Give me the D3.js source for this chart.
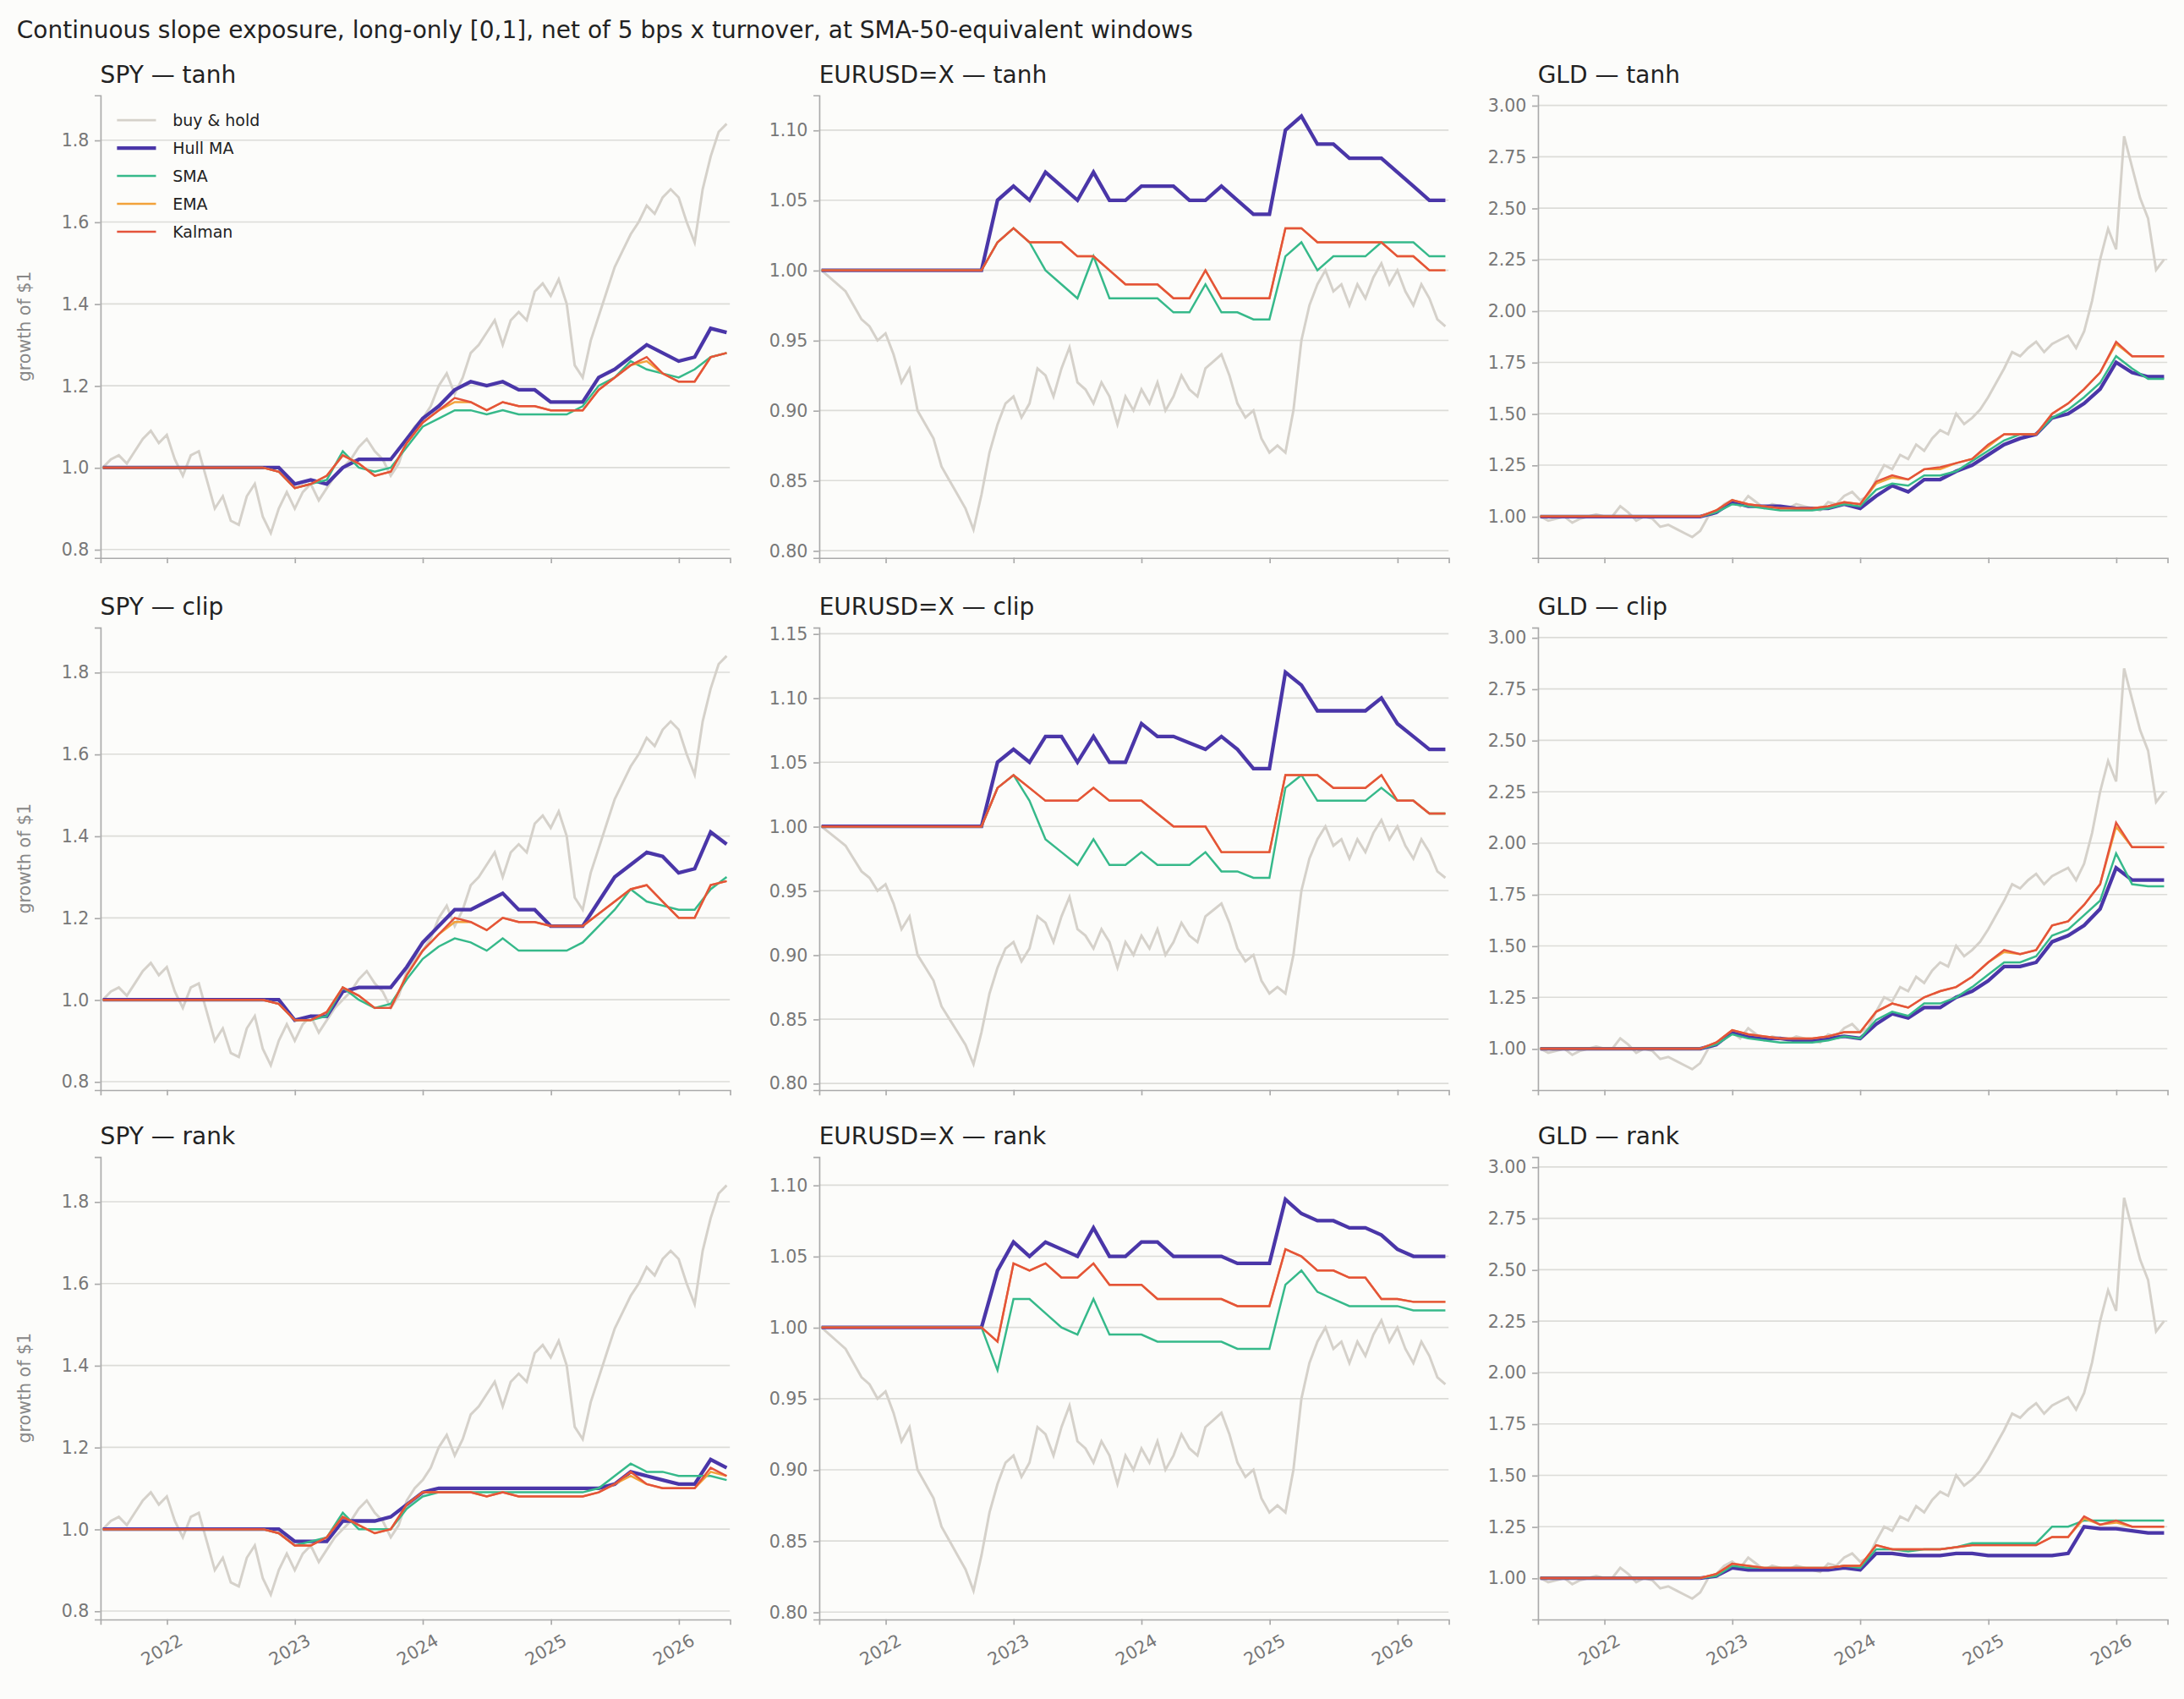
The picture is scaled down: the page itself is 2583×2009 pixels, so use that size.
<!DOCTYPE html>
<html><head><meta charset="utf-8">
<script src="https://cdn.jsdelivr.net/npm/d3@7"></script>
<style>body{margin:0;background:#fcfcfa;font-family:"DejaVu Sans",sans-serif}</style>
</head><body>
<div id="chart"></div>
<script>
(function () {
  'use strict';

  // buy & hold, every 1/16 year from 2021.5
  var bh = {
    SPY: [1.0,1.02,1.03,1.01,1.04,1.07,1.09,1.06,1.08, 1.02,0.98,1.03,1.04,0.97,0.90,0.93,0.87,
      0.86,0.93,0.96,0.88,0.84,0.90,0.94,0.90, 0.94,0.96,0.92,0.95,0.98,1.00,1.02,1.05,
      1.07,1.04,1.02,0.98,1.01,1.07,1.10,1.12, 1.15,1.20,1.23,1.18,1.22,1.28,1.30,1.33,
      1.36,1.30,1.36,1.38,1.36,1.43,1.45,1.42, 1.46,1.40,1.25,1.22,1.31,1.37,1.43,1.49,
      1.53,1.57,1.60,1.64,1.62,1.66,1.68,1.66, 1.60,1.55,1.68,1.76,1.82,1.84],
    'EURUSD=X': [1.0,0.995,0.99,0.985,0.975,0.965,0.96,0.95,0.955, 0.94,0.92,0.93,0.90,0.89,0.88,0.86,0.85,
      0.84,0.83,0.815,0.84,0.87,0.89,0.905,0.91, 0.895,0.905,0.93,0.925,0.91,0.93,0.945,0.92,
      0.915,0.905,0.92,0.91,0.89,0.91,0.90,0.915, 0.905,0.92,0.90,0.91,0.925,0.915,0.91,0.93,
      0.935,0.94,0.925,0.905,0.895,0.90,0.88,0.87, 0.875,0.87,0.90,0.95,0.975,0.99,1.0,0.985,
      0.99,0.975,0.99,0.98,0.995,1.005,0.99,1.0, 0.985,0.975,0.99,0.98,0.965,0.96],
    GLD: [1.0,0.98,0.99,1.0,0.97,0.99,1.0,1.01,1.0, 1.0,1.05,1.02,0.98,1.0,0.99,0.95,0.96,
      0.94,0.92,0.90,0.93,1.0,1.02,1.06,1.08, 1.05,1.1,1.07,1.04,1.06,1.05,1.04,1.06,
      1.05,1.04,1.03,1.07,1.06,1.10,1.12,1.08, 1.10,1.18,1.25,1.23,1.30,1.28,1.35,1.32,
      1.38,1.42,1.40,1.50,1.45,1.48,1.52,1.58, 1.65,1.72,1.80,1.78,1.82,1.85,1.80,1.84,
      1.86,1.88,1.82,1.90,2.05,2.25,2.40,2.30, 2.85,2.70,2.55,2.45,2.20,2.25]
  };

  // strategies, every 1/8 year from 2022.875 (flat at 1 before)
  var strat = {
    SPY: {
      tanh: {
        'Hull MA': [1.0,0.96,0.97,0.96,1.0,1.02,1.02,1.02,1.07,1.12,1.15,1.19,1.21,1.20,1.21,1.19,1.19,1.16,1.16,1.16,1.22,1.24,1.27,1.30,1.28,1.26,1.27,1.34,1.33],
        SMA: [0.99,0.95,0.96,0.97,1.04,1.00,0.99,1.00,1.05,1.10,1.12,1.14,1.14,1.13,1.14,1.13,1.13,1.13,1.13,1.15,1.20,1.22,1.26,1.24,1.23,1.22,1.24,1.27,1.28],
        EMA: [0.99,0.95,0.96,0.98,1.03,1.01,0.98,0.99,1.06,1.11,1.14,1.16,1.16,1.14,1.16,1.15,1.15,1.14,1.14,1.14,1.19,1.22,1.25,1.26,1.23,1.21,1.21,1.27,1.28],
        Kalman: [0.99,0.95,0.96,0.98,1.03,1.01,0.98,0.99,1.06,1.11,1.14,1.17,1.16,1.14,1.16,1.15,1.15,1.14,1.14,1.14,1.19,1.22,1.25,1.27,1.23,1.21,1.21,1.27,1.28]
      },
      clip: {
        'Hull MA': [1.0,0.95,0.96,0.96,1.02,1.03,1.03,1.03,1.08,1.14,1.18,1.22,1.22,1.24,1.26,1.22,1.22,1.18,1.18,1.18,1.24,1.30,1.33,1.36,1.35,1.31,1.32,1.41,1.38],
        SMA: [0.99,0.95,0.95,0.96,1.03,1.00,0.98,0.99,1.05,1.10,1.13,1.15,1.14,1.12,1.15,1.12,1.12,1.12,1.12,1.14,1.18,1.22,1.27,1.24,1.23,1.22,1.22,1.27,1.30],
        EMA: [0.99,0.95,0.95,0.97,1.03,1.01,0.98,0.98,1.06,1.12,1.16,1.19,1.19,1.17,1.20,1.19,1.19,1.18,1.18,1.18,1.21,1.24,1.27,1.28,1.24,1.20,1.20,1.28,1.29],
        Kalman: [0.99,0.95,0.95,0.97,1.03,1.01,0.98,0.98,1.06,1.12,1.16,1.20,1.19,1.17,1.20,1.19,1.19,1.18,1.18,1.18,1.21,1.24,1.27,1.28,1.24,1.20,1.20,1.28,1.29]
      },
      rank: {
        'Hull MA': [1.0,0.97,0.97,0.97,1.02,1.02,1.02,1.03,1.06,1.09,1.10,1.10,1.10,1.10,1.10,1.10,1.10,1.10,1.10,1.10,1.10,1.11,1.14,1.13,1.12,1.11,1.11,1.17,1.15],
        SMA: [0.99,0.96,0.97,0.98,1.04,1.00,1.00,1.00,1.05,1.08,1.09,1.09,1.09,1.09,1.09,1.09,1.09,1.09,1.09,1.09,1.10,1.13,1.16,1.14,1.14,1.13,1.13,1.13,1.12],
        EMA: [0.99,0.96,0.96,0.98,1.03,1.01,0.99,1.00,1.06,1.09,1.09,1.09,1.09,1.08,1.09,1.08,1.08,1.08,1.08,1.08,1.09,1.11,1.13,1.11,1.10,1.10,1.10,1.14,1.13],
        Kalman: [0.99,0.96,0.96,0.98,1.03,1.01,0.99,1.00,1.06,1.09,1.09,1.09,1.09,1.08,1.09,1.08,1.08,1.08,1.08,1.08,1.09,1.11,1.14,1.11,1.10,1.10,1.10,1.15,1.13]
      }
    },
    'EURUSD=X': {
      tanh: {
        'Hull MA': [1.05,1.06,1.05,1.07,1.06,1.05,1.07,1.05,1.05,1.06,1.06,1.06,1.05,1.05,1.06,1.05,1.04,1.04,1.10,1.11,1.09,1.09,1.08,1.08,1.08,1.07,1.06,1.05,1.05],
        SMA: [1.02,1.03,1.02,1.00,0.99,0.98,1.01,0.98,0.98,0.98,0.98,0.97,0.97,0.99,0.97,0.97,0.965,0.965,1.01,1.02,1.00,1.01,1.01,1.01,1.02,1.02,1.02,1.01,1.01],
        EMA: [1.02,1.03,1.02,1.02,1.02,1.01,1.01,1.00,0.99,0.99,0.99,0.98,0.98,1.00,0.98,0.98,0.98,0.98,1.03,1.03,1.02,1.02,1.02,1.02,1.02,1.01,1.01,1.0,1.0],
        Kalman: [1.02,1.03,1.02,1.02,1.02,1.01,1.01,1.00,0.99,0.99,0.99,0.98,0.98,1.00,0.98,0.98,0.98,0.98,1.03,1.03,1.02,1.02,1.02,1.02,1.02,1.01,1.01,1.0,1.0]
      },
      clip: {
        'Hull MA': [1.05,1.06,1.05,1.07,1.07,1.05,1.07,1.05,1.05,1.08,1.07,1.07,1.065,1.06,1.07,1.06,1.045,1.045,1.12,1.11,1.09,1.09,1.09,1.09,1.10,1.08,1.07,1.06,1.06],
        SMA: [1.03,1.04,1.02,0.99,0.98,0.97,0.99,0.97,0.97,0.98,0.97,0.97,0.97,0.98,0.965,0.965,0.96,0.96,1.03,1.04,1.02,1.02,1.02,1.02,1.03,1.02,1.02,1.01,1.01],
        EMA: [1.03,1.04,1.03,1.02,1.02,1.02,1.03,1.02,1.02,1.02,1.01,1.00,1.00,1.00,0.98,0.98,0.98,0.98,1.04,1.04,1.04,1.03,1.03,1.03,1.04,1.02,1.02,1.01,1.01],
        Kalman: [1.03,1.04,1.03,1.02,1.02,1.02,1.03,1.02,1.02,1.02,1.01,1.00,1.00,1.00,0.98,0.98,0.98,0.98,1.04,1.04,1.04,1.03,1.03,1.03,1.04,1.02,1.02,1.01,1.01]
      },
      rank: {
        'Hull MA': [1.04,1.06,1.05,1.06,1.055,1.05,1.07,1.05,1.05,1.06,1.06,1.05,1.05,1.05,1.05,1.045,1.045,1.045,1.09,1.08,1.075,1.075,1.07,1.07,1.065,1.055,1.05,1.05,1.05],
        SMA: [0.97,1.02,1.02,1.01,1.00,0.995,1.02,0.995,0.995,0.995,0.99,0.99,0.99,0.99,0.99,0.985,0.985,0.985,1.03,1.04,1.025,1.02,1.015,1.015,1.015,1.015,1.012,1.012,1.012],
        EMA: [0.99,1.045,1.04,1.045,1.035,1.035,1.045,1.03,1.03,1.03,1.02,1.02,1.02,1.02,1.02,1.015,1.015,1.015,1.055,1.05,1.04,1.04,1.035,1.035,1.02,1.02,1.018,1.018,1.018],
        Kalman: [0.99,1.045,1.04,1.045,1.035,1.035,1.045,1.03,1.03,1.03,1.02,1.02,1.02,1.02,1.02,1.015,1.015,1.015,1.055,1.05,1.04,1.04,1.035,1.035,1.02,1.02,1.018,1.018,1.018]
      }
    },
    GLD: {
      tanh: {
        'Hull MA': [1.02,1.07,1.05,1.05,1.05,1.04,1.04,1.04,1.06,1.04,1.10,1.15,1.12,1.18,1.18,1.22,1.25,1.30,1.35,1.38,1.40,1.48,1.50,1.55,1.62,1.75,1.70,1.68,1.68],
        SMA: [1.02,1.06,1.05,1.04,1.03,1.03,1.03,1.04,1.06,1.05,1.13,1.16,1.15,1.20,1.20,1.22,1.27,1.32,1.37,1.40,1.40,1.48,1.52,1.58,1.65,1.78,1.72,1.67,1.67],
        EMA: [1.03,1.08,1.06,1.05,1.04,1.04,1.04,1.05,1.07,1.06,1.16,1.19,1.18,1.23,1.23,1.26,1.28,1.34,1.40,1.40,1.40,1.50,1.55,1.62,1.70,1.84,1.78,1.78,1.78],
        Kalman: [1.03,1.08,1.06,1.05,1.04,1.04,1.04,1.05,1.07,1.06,1.17,1.20,1.18,1.23,1.24,1.26,1.28,1.35,1.40,1.40,1.40,1.50,1.55,1.62,1.70,1.85,1.78,1.78,1.78]
      },
      clip: {
        'Hull MA': [1.02,1.08,1.06,1.05,1.05,1.04,1.04,1.05,1.06,1.05,1.12,1.17,1.15,1.20,1.20,1.25,1.28,1.33,1.40,1.40,1.42,1.52,1.55,1.60,1.68,1.88,1.82,1.82,1.82],
        SMA: [1.02,1.07,1.05,1.04,1.03,1.03,1.03,1.04,1.06,1.05,1.14,1.18,1.16,1.22,1.22,1.25,1.30,1.36,1.42,1.42,1.45,1.55,1.58,1.65,1.72,1.95,1.80,1.79,1.79],
        EMA: [1.03,1.09,1.07,1.06,1.05,1.05,1.05,1.06,1.08,1.08,1.18,1.22,1.20,1.25,1.28,1.30,1.35,1.42,1.47,1.46,1.48,1.60,1.62,1.70,1.80,2.08,1.98,1.98,1.98],
        Kalman: [1.03,1.09,1.07,1.06,1.05,1.05,1.05,1.06,1.08,1.08,1.18,1.22,1.20,1.25,1.28,1.30,1.35,1.42,1.48,1.46,1.48,1.60,1.62,1.70,1.80,2.10,1.98,1.98,1.98]
      },
      rank: {
        'Hull MA': [1.01,1.05,1.04,1.04,1.04,1.04,1.04,1.04,1.05,1.04,1.12,1.12,1.11,1.11,1.11,1.12,1.12,1.11,1.11,1.11,1.11,1.11,1.12,1.25,1.24,1.24,1.23,1.22,1.22],
        SMA: [1.01,1.06,1.05,1.05,1.05,1.05,1.05,1.05,1.06,1.05,1.14,1.14,1.13,1.14,1.14,1.15,1.17,1.17,1.17,1.17,1.17,1.25,1.25,1.28,1.28,1.28,1.28,1.28,1.28],
        EMA: [1.02,1.07,1.06,1.05,1.05,1.05,1.05,1.05,1.06,1.06,1.16,1.14,1.14,1.14,1.14,1.15,1.16,1.16,1.16,1.16,1.16,1.20,1.20,1.29,1.26,1.27,1.25,1.25,1.25],
        Kalman: [1.02,1.07,1.06,1.05,1.05,1.05,1.05,1.05,1.06,1.06,1.16,1.14,1.14,1.14,1.14,1.15,1.16,1.16,1.16,1.16,1.16,1.20,1.20,1.30,1.26,1.28,1.25,1.25,1.25]
      }
    }
  };

  var assets = ['SPY', 'EURUSD=X', 'GLD'];
  var modes = ['tanh', 'clip', 'rank'];
  var names = ['Hull MA', 'SMA', 'EMA', 'Kalman'];
  var colors = {'buy & hold': '#d5d1ca', 'Hull MA': '#4a36a8', SMA: '#36b98a', EMA: '#f2a23a', Kalman: '#e4533b'};
  var widths = {'buy & hold': 1.8, 'Hull MA': 2.6, SMA: 1.5, EMA: 1.5, Kalman: 1.5};
  var yDom = {
    SPY: [[0.78, 1.91], [0.78, 1.91], [0.78, 1.91]],
    'EURUSD=X': [[0.795, 1.125], [0.795, 1.155], [0.795, 1.12]],
    GLD: [[0.8, 3.05], [0.8, 3.05], [0.8, 3.05]]
  };
  var yStep = {SPY: 0.2, 'EURUSD=X': 0.05, GLD: 0.25};

  function yrDate(y) { return new Date(Date.UTC(2021, 0, 1) + (y - 2021) * 365.25 * 864e5); }

  var W = 1568, H = 1219;
  var svg = d3.select('#chart').append('svg')
    .attr('width', 2583).attr('height', 2009)
    .attr('viewBox', '0 0 ' + W + ' ' + H)
    .style('background', '#fcfcfa');

  svg.append('text').attr('x', 12).attr('y', 27).attr('font-size', 17).attr('fill', '#222')
    .text('Continuous slope exposure, long-only [0,1], net of 5 bps x turnover, at SMA-50-equivalent windows');

  var colX = [72, 588, 1104], rowY = [68, 450, 830], pw = 452, ph = 332;
  var x = d3.scaleUtc().domain([yrDate(2021.48), yrDate(2026.4)]).range([0, pw]);

  assets.forEach(function (a, c) {
    modes.forEach(function (m, r) {
      var g = svg.append('g').attr('transform', 'translate(' + colX[c] + ',' + rowY[r] + ')');
      var y = d3.scaleLinear().domain(yDom[a][r]).range([ph, 0]);
      var ticks = d3.range(Math.ceil(yDom[a][r][0] / yStep[a] - 1e-6) * yStep[a], yDom[a][r][1] + 1e-9, yStep[a]);

      g.append('g').selectAll('line').data(ticks).enter().append('line')
        .attr('x1', 0).attr('x2', pw).attr('y1', y).attr('y2', y)
        .attr('stroke', '#dcdcd8').attr('stroke-width', 1);

      var ya = g.append('g').call(d3.axisLeft(y).tickValues(ticks)
        .tickFormat(d3.format(a === 'SPY' ? '.1f' : '.2f')).tickSize(4).tickPadding(4));
      var xa = g.append('g').attr('transform', 'translate(0,' + ph + ')')
        .call(d3.axisBottom(x).ticks(d3.utcYear.every(1)).tickSize(4)
          .tickFormat(r === 2 ? d3.utcFormat('%Y') : ''));
      [ya, xa].forEach(function (ax) {
        ax.select('.domain').attr('stroke', '#aaa');
        ax.selectAll('.tick line').attr('stroke', '#aaa');
        ax.selectAll('text').attr('fill', '#777').attr('font-size', 12.5)
          .attr('font-family', '"DejaVu Sans",sans-serif');
      });
      if (r === 2) {
        xa.selectAll('text').attr('text-anchor', 'end')
          .attr('transform', 'translate(4,4) rotate(-30)');
      }

      var line = d3.line().x(function (d) { return x(d[0]); }).y(function (d) { return y(d[1]); });
      var bhData = bh[a].map(function (v, i) { return [yrDate(2021.5 + i / 16), v]; });
      g.append('path').datum(bhData).attr('d', line).attr('fill', 'none')
        .attr('stroke', colors['buy & hold']).attr('stroke-width', widths['buy & hold']);

      // strategy lines: legend order, Hull first so the others lie on top of it
      names.forEach(function (n) {
        var vals = Array(11).fill(1).concat(strat[a][m][n]);
        var pts = vals.map(function (v, i) { return [yrDate(2021.5 + i / 8), v]; });
        g.append('path').datum(pts).attr('d', line).attr('fill', 'none')
          .attr('stroke', colors[n]).attr('stroke-width', widths[n]);
      });

      g.append('text').attr('x', 0).attr('y', -9).attr('font-size', 17).attr('fill', '#222')
        .text(a + ' \u2014 ' + m);

      if (c === 0) {
        g.append('text').attr('transform', 'translate(-50,' + ph / 2 + ') rotate(-90)')
          .attr('text-anchor', 'middle').attr('font-size', 12.5).attr('fill', '#888')
          .text('growth of $1');
      }

      if (a === 'SPY' && m === 'tanh') {
        var lg = g.append('g').attr('transform', 'translate(12,18)');
        ['buy & hold'].concat(names).forEach(function (n, i) {
          lg.append('line').attr('x1', 0).attr('x2', 28).attr('y1', i * 20).attr('y2', i * 20)
            .attr('stroke', colors[n]).attr('stroke-width', widths[n]);
          lg.append('text').attr('x', 40).attr('y', i * 20 + 4).attr('font-size', 11.5)
            .attr('fill', '#222').text(n);
        });
      }
    });
  });
})();
</script>
</body></html>
